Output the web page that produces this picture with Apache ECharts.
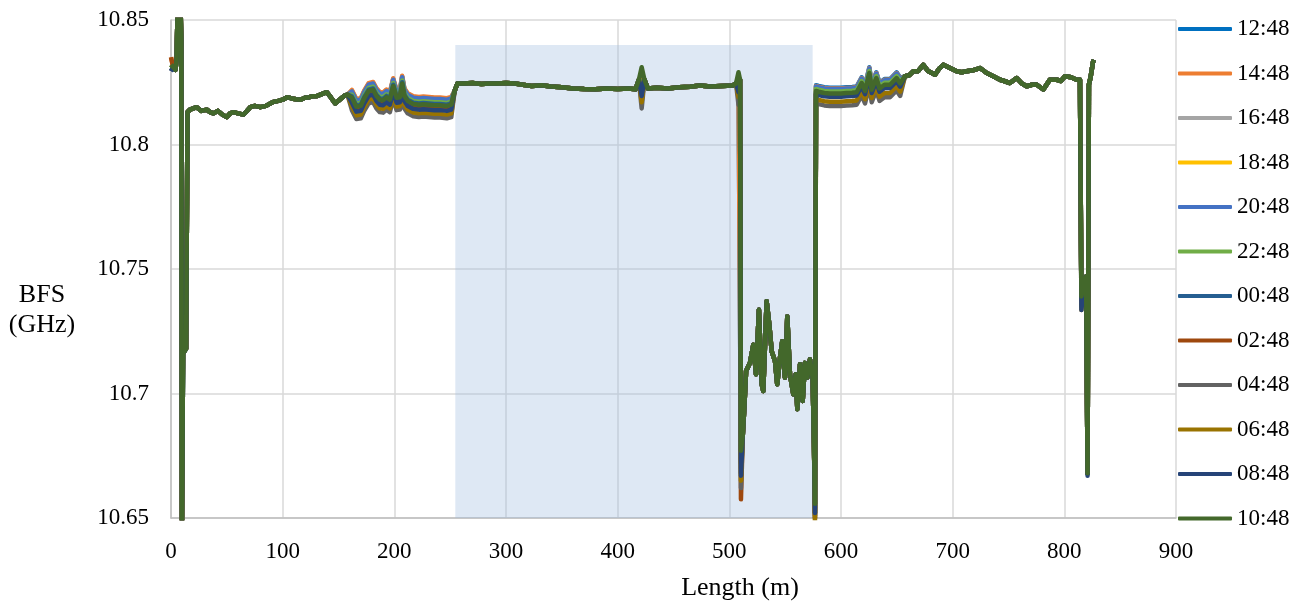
<!DOCTYPE html>
<html>
<head>
<meta charset="utf-8">
<script src="https://cdn.jsdelivr.net/npm/echarts@6/dist/echarts.min.js"></script>
<style>html,body{margin:0;padding:0;background:#fff;}#chart{width:1308px;height:606px;}</style>
</head>
<body>
<div id="chart"></div>
<script>
// ---- DATA ----
const seriesNames = ['12:48','14:48','16:48','18:48','20:48','22:48','00:48','02:48','04:48','06:48','08:48','10:48'];
const seriesColors = ['#0070C0','#ED7D31','#A5A5A5','#FFC000','#4472C4','#70AD47','#255E91','#9E480E','#636363','#997300','#264478','#43682B'];

// Length positions (m)
const lengths = [0,2,4,5,6,8.5,9.2,9.8,10.8,13.5,14.8,17,20,23,27,32,35,38,42,46,50,53,56,60,65,68,71,75,80,85,91,96,100,104,108,112,116,120,124,127,131,135,139.5,143,147,151,155,158,162,166,170,173,177,181,184,187,190,193,196,199,202,205,207,209,212,217,222,226,231,236,241,247,251,254,256.5,262,270,278,285,292,300,308,315,323,332,340,350,360,370,380,390,400,410,416,419,421.5,424,427,435,445,455,465,473.5,483,493,503,506,508.2,509.6,510.4,512,513.5,515,518.5,521.5,523.9,526.5,529,530.4,533.4,535.8,537.9,540.9,542.9,545.4,547.4,549.8,551.9,554.3,557.3,559.4,560.9,563.3,565.7,567.7,569.8,572.2,574.6,575.8,576.7,577.6,580,585,590,595,600,605,610,614,618.5,621.5,625.4,627.5,631.6,634.5,639,643.9,649.8,653,657.3,661,664.7,668.9,673.7,678,684.2,688,691.6,697.6,703.6,708,712.5,718,724.5,730.5,736.4,742.4,746,751.3,757.3,762,766.3,771,775,781.2,787,793.2,797,800.6,806,811,814,815.3,817,819.5,820.8,822,823.5,825.6,826.5];

// BFS (GHz) of the 10:48 trace (drawn on top)
const bfs1048 = [10.832,10.831,10.830,10.834,10.856,10.856,10.842,10.646,10.716,10.718,10.813,10.814,10.8145,10.815,10.8135,10.814,10.813,10.8125,10.8135,10.812,10.811,10.8125,10.813,10.8125,10.812,10.8135,10.815,10.8155,10.815,10.8155,10.817,10.8175,10.818,10.819,10.8185,10.8182,10.818,10.8188,10.819,10.8194,10.8195,10.8202,10.821,10.819,10.8165,10.818,10.8195,10.820,10.8188,10.8152,10.8155,10.8185,10.8215,10.822,10.8195,10.818,10.8178,10.819,10.818,10.8235,10.8188,10.819,10.8245,10.8195,10.8175,10.8163,10.816,10.8162,10.816,10.8158,10.8158,10.8155,10.816,10.8215,10.8245,10.8245,10.8247,10.8243,10.8245,10.8245,10.8247,10.8245,10.824,10.8235,10.8238,10.8233,10.823,10.8225,10.8223,10.8222,10.8225,10.8223,10.8225,10.8222,10.826,10.831,10.826,10.8225,10.8228,10.8225,10.823,10.8232,10.8237,10.8233,10.8235,10.8237,10.8245,10.829,10.826,10.677,10.683,10.695,10.709,10.7123,10.7196,10.7077,10.7336,10.7037,10.701,10.737,10.7276,10.717,10.713,10.7037,10.7144,10.721,10.7064,10.7309,10.7077,10.6997,10.7077,10.6937,10.7117,10.697,10.7123,10.7064,10.7137,10.7064,10.68,10.6557,10.8215,10.8212,10.8207,10.8205,10.8205,10.8205,10.8207,10.8208,10.821,10.8247,10.8215,10.8287,10.822,10.8267,10.8225,10.824,10.824,10.8267,10.8245,10.8274,10.8278,10.8294,10.8294,10.832,10.8295,10.828,10.8305,10.832,10.8307,10.8294,10.829,10.8294,10.8298,10.8307,10.8287,10.8274,10.826,10.8255,10.8247,10.8267,10.8245,10.8234,10.824,10.8241,10.8221,10.826,10.826,10.8255,10.8274,10.827,10.826,10.826,10.739,10.743,10.747,10.668,10.824,10.827,10.833,10.834];

// Per-trace shift from the 10:48 trace in the 162–251 m band and the 578–653 m band (GHz)
const band1Range = [162, 251];
const band1Shift = [0.0028,0.0031,0.0015,0.0022,0.0025,0.0012,0.0005,-0.0008,-0.0050,-0.0035,-0.0020,0];
const band2Range = [577.6, 653];
const band2Shift = [0.0023,0.0020,0.0012,0.0015,0.0018,0.0008,-0.0005,-0.0010,-0.0050,-0.0033,-0.0013,0];

// Per-trace values at singular points (GHz)
const pointValues = {
  0:     [10.832,10.835,10.831,10.832,10.831,10.832,10.8295,10.835,10.8295,10.831,10.8295,10.832],
  10.8:  [10.716,10.726,10.716,10.716,10.716,10.716,10.716,10.728,10.716,10.716,10.716,10.716],
  421.5: [10.824,10.826,10.818,10.822,10.821,10.825,10.8195,10.819,10.8145,10.817,10.8195,10.831],
  508.2: [10.826,10.826,10.822,10.824,10.825,10.827,10.823,10.822,10.816,10.819,10.821,10.829],
  510.4: [10.672,10.674,10.670,10.672,10.673,10.675,10.668,10.6575,10.662,10.665,10.667,10.677],
  576.7: [10.652,10.653,10.652,10.652,10.654,10.655,10.651,10.650,10.650,10.647,10.652,10.6557],
  815.3: [10.737,10.738,10.737,10.736,10.737,10.738,10.735,10.737,10.736,10.7335,10.7335,10.739],
  820.8: [10.668,10.668,10.668,10.668,10.668,10.668,10.668,10.668,10.668,10.668,10.667,10.668]
};

// Highlighted length section and its top (GHz)
const shadeStart = 254.6, shadeEnd = 574.6, shadeTop = 10.84;

// Axis settings
const xMin = 0, xMax = 900, xStep = 100;
const yMin = 10.65, yMax = 10.85, yStep = 0.05;

// ---- BUILD ----
function traceData(s) {
  return lengths.map((x, i) => {
    let v = bfs1048[i];
    if (x >= band1Range[0] && x <= band1Range[1]) v += band1Shift[s];
    if (x >= band2Range[0] && x <= band2Range[1]) v += band2Shift[s];
    if (pointValues[x] !== undefined) v = pointValues[x][s];
    return [x, v];
  });
}

const FONT = 'Liberation Serif';
const series = [{
  type: 'line', data: [], silent: true,
  markArea: {
    silent: true,
    itemStyle: { color: 'rgba(158,187,223,0.34)' },
    data: [[{ xAxis: shadeStart, yAxis: yMin }, { xAxis: shadeEnd, yAxis: shadeTop }]]
  }
}];
seriesNames.forEach((name, s) => {
  series.push({
    name: name, type: 'line', data: traceData(s), symbol: 'none', clip: true,
    lineStyle: { color: seriesColors[s], width: 4.5, join: 'round' },
    itemStyle: { color: seriesColors[s] }
  });
});

const chart = echarts.init(document.getElementById('chart'), null, { renderer: 'canvas' });
chart.setOption({
  animation: false,
  backgroundColor: '#fff',
  grid: { left: 171, right: 132, top: 20, bottom: 85 },
  legend: {
    data: seriesNames, orient: 'vertical', left: 1173, top: 12,
    itemWidth: 54, itemHeight: 4, itemGap: 20.5, icon: 'roundRect',
    textStyle: { fontFamily: FONT, fontSize: 23, color: '#000', lineHeight: 24 }
  },
  xAxis: {
    type: 'value', min: xMin, max: xMax, interval: xStep,
    name: 'Length (m)', nameLocation: 'middle', nameGap: 57,
    nameTextStyle: { fontFamily: FONT, fontSize: 26, color: '#000', padding: [0, 0, 0, 133], align: 'center', verticalAlign: 'top', lineHeight: 26 },
    axisLine: { show: true, lineStyle: { color: '#BFBFBF', width: 1.5 } },
    axisTick: { show: false },
    axisLabel: { fontFamily: FONT, fontSize: 23, color: '#000', margin: 22 },
    splitLine: { show: true, lineStyle: { color: '#D9D9D9', width: 1.5 } }
  },
  yAxis: {
    type: 'value', min: yMin, max: yMax, interval: yStep,
    name: 'BFS\n(GHz)', nameLocation: 'middle', nameGap: 129, nameRotate: 0,
    nameTextStyle: { fontFamily: FONT, fontSize: 26, color: '#000', align: 'center', verticalAlign: 'top', lineHeight: 30, padding: [11, 0, 0, 0] },
    axisLine: { show: true, lineStyle: { color: '#BFBFBF', width: 1.5 } },
    axisTick: { show: false },
    axisLabel: { fontFamily: FONT, fontSize: 23, color: '#000', margin: 22, formatter: v => String(parseFloat(v.toFixed(2))) },
    splitLine: { show: true, lineStyle: { color: '#D9D9D9', width: 1.5 } }
  },
  series: series
});
</script>
</body>
</html>
